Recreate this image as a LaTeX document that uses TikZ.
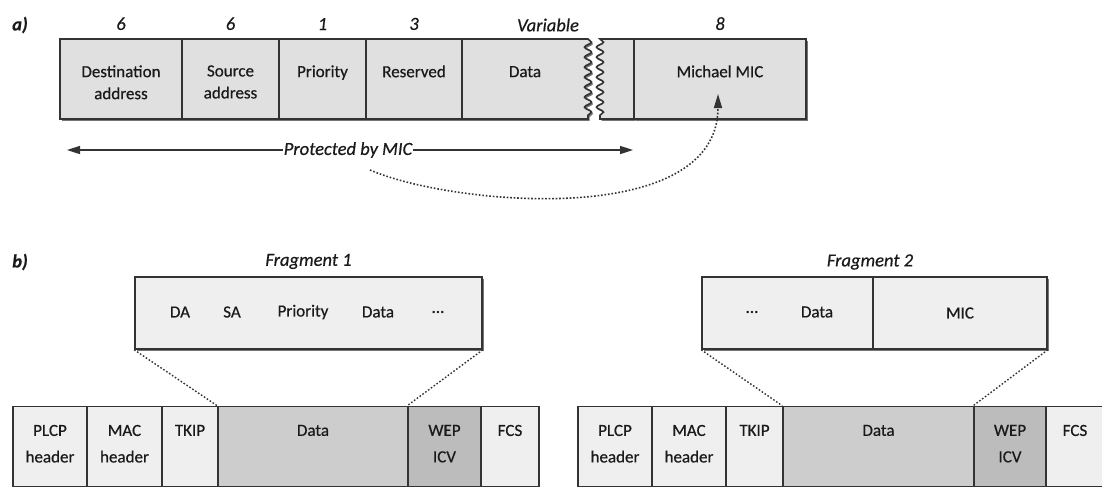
\documentclass[tikz,border=0pt]{standalone}
\usepackage{fontspec}
\setmainfont{Carlito}[FakeBold=0.5]
\usetikzlibrary{arrows.meta,decorations.pathmorphing,shadows,positioning}

\definecolor{Cframe}{HTML}{333333}
\definecolor{Ctext}{HTML}{1A1A1A}
\definecolor{Cfield}{HTML}{E0E0E0}
\definecolor{Clight}{HTML}{EFEFEF}
\definecolor{Cdata}{HTML}{CDCDCD}
\definecolor{Cicv}{HTML}{BCBCBC}

\tikzset{
  fld/.style={draw=Cframe,line width=1.6pt,fill=Cfield,inner sep=0pt,minimum height=80pt},
  pkt/.style={fld,fill=Clight},
  boxshadow/.style={drop shadow={shadow xshift=1.6pt,shadow yshift=-1.8pt,fill=black!60,opacity=.9}},
  brk/.style={decoration={snake,amplitude=3.5pt,segment length=10pt}},
  fldtxt/.style={anchor=north,yshift=-27pt,inner sep=0pt,align=center,text=Ctext,font=\fontsize{17}{22}\selectfont},
  pkttxt/.style={anchor=north,yshift=-19pt,inner sep=0pt,align=center,text=Ctext,font=\fontsize{17}{26.5}\selectfont},
  txt/.style={inner sep=0pt,text=Ctext},
  num/.style={inner sep=0pt,text=Ctext,font=\fontsize{18.5}{22}\selectfont\itshape},
  part/.style={inner sep=0pt,text=Ctext,font=\fontsize{18.5}{22}\selectfont\bfseries\itshape},
  arr/.style={draw=Cframe,line width=1.6pt,-{Triangle[length=13pt,width=8pt]}},
  dotarr/.style={draw=Cframe,line width=1.6pt,dash pattern=on 1.6pt off 1.9pt,-{Triangle[length=14pt,width=8pt]}},
  zoomline/.style={draw=Cframe,line width=1.4pt,dash pattern=on 1.6pt off 1.9pt}
}

\begin{document}
\begin{tikzpicture}[x=1pt,y=-1pt,font=\fontsize{17}{20.5}\selectfont]
  \clip (0,0) rectangle (1102,488);

  % a) MIC computation
  \node[part] (parta) at (20,25) {a)};
  \node[fld,boxshadow,minimum width=122pt,label={[fldtxt]north:Destination\\address}] (da) at (121,79) {};
  \node[fld,boxshadow,minimum width=97pt,label={[fldtxt]north:Source\\address}] (sa) at (230.5,79) {};
  \node[fld,boxshadow,minimum width=87pt,label={[fldtxt]north:Priority}] (pri) at (322.5,79) {};
  \node[fld,boxshadow,minimum width=96pt,label={[fldtxt]north:Reserved}] (res) at (414,79) {};
  \filldraw[fld,brk,boxshadow] (462,39) -- (588,39) decorate {-- (588,119)} -- (462,119) -- cycle;
  \filldraw[fld,brk,boxshadow] (634,39) -- (600,39) decorate {-- (600,119)} -- (634,119) -- cycle;
  \node[fld,boxshadow,minimum width=172pt,label={[fldtxt]north:Michael MIC}] (mic) at (720,79) {};
  \node[fldtxt] (datatxt) at (525,39) {Data};

  \node[num,above=8pt of da] (szda) {6};
  \node[num,above=8pt of sa] (szsa) {6};
  \node[num,above=8pt of pri] (szpri) {1};
  \node[num,above=8pt of res] (szres) {3};
  \node[num] (szdata) at (548,25) {Variable};
  \node[num,above=8pt of mic] (szmic) {8};

  \node[num,inner sep=1pt] (prot) at (348,150) {Protected by MIC};
  \coordinate (protl) at (67,150);
  \coordinate (protr) at (633,150);
  \draw[arr] (prot) -- (protl);
  \draw[arr] (prot) -- (protr);

  \coordinate (curvestart) at (370,170);
  \coordinate (mictip) at (718,94);
  \draw[dotarr] (curvestart) .. controls (450,205) and (718,230) .. (mictip);

  % b) fragments
  \node[part] (partb) at (20,262) {b)};

  \node[pkt,boxshadow,minimum width=347pt,minimum height=72pt] (frag1) at (308.5,313) {};
  \node[num,above=7pt of frag1] (frag1lbl) {Fragment 1};
  \node[txt] (f1da) at (180,312) {DA};
  \node[txt] (f1sa) at (232,312) {SA};
  \node[txt] (f1pri) at (303,312) {Priority};
  \node[txt] (f1data) at (378,312) {Data};
  \node[txt] (f1more) at (438,312) {…};

  \node[pkt,boxshadow,minimum width=171pt,minimum height=72pt] (frag2a) at (787.5,313) {};
  \node[pkt,boxshadow,minimum width=174pt,minimum height=72pt] (frag2b) at (960,313) {};
  \node[num] (frag2lbl) at (870,262) {Fragment 2};
  \node[txt] (f2more) at (752,312) {…};
  \node[txt] (f2data) at (817,312) {Data};
  \node[txt] (f2mic) at (frag2b) {MIC};

  % first frame
  \node[pkt,minimum width=74pt,label={[pkttxt]north:PLCP\\header}] (plcp1) at (50,446.5) {};
  \node[pkt,minimum width=75pt,label={[pkttxt]north:MAC\\header}] (mac1) at (124.5,446.5) {};
  \node[pkt,minimum width=56pt,label={[pkttxt]north:TKIP}] (tkip1) at (190,446.5) {};
  \node[pkt,fill=Cdata,minimum width=190pt,label={[pkttxt]north:Data}] (data1) at (313,446.5) {};
  \node[pkt,fill=Cicv,minimum width=73pt,label={[pkttxt]north:WEP\\ICV}] (icv1) at (444.5,446.5) {};
  \node[pkt,minimum width=58pt,label={[pkttxt]north:FCS}] (fcs1) at (510,446.5) {};

  % second frame
  \node[pkt,minimum width=74pt,label={[pkttxt]north:PLCP\\header}] (plcp2) at (615,446.5) {};
  \node[pkt,minimum width=74pt,label={[pkttxt]north:MAC\\header}] (mac2) at (689,446.5) {};
  \node[pkt,minimum width=57pt,label={[pkttxt]north:TKIP}] (tkip2) at (754.5,446.5) {};
  \node[pkt,fill=Cdata,minimum width=191pt,label={[pkttxt]north:Data}] (data2) at (878.5,446.5) {};
  \node[pkt,fill=Cicv,minimum width=72pt,label={[pkttxt]north:WEP\\ICV}] (icv2) at (1010,446.5) {};
  \node[pkt,minimum width=58pt,label={[pkttxt]north:FCS}] (fcs2) at (1075,446.5) {};

  \draw[zoomline] (frag1.south west) -- (data1.north west);
  \draw[zoomline] (frag1.south east) -- (icv1.north west);
  \draw[zoomline] (frag2a.south west) -- (data2.north west);
  \draw[zoomline] (frag2b.south east) -- (icv2.north west);
\end{tikzpicture}
\end{document}
